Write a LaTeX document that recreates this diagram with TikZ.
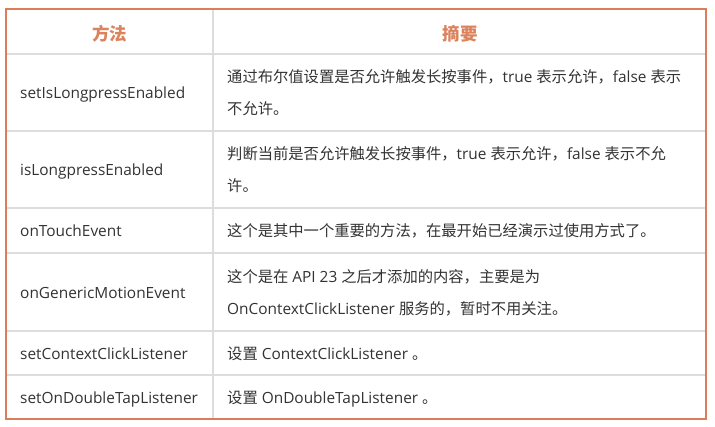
\documentclass[tikz,border=0pt]{standalone}
\usepackage{fontspec}
\setmainfont{Open Sans}
\newfontfamily\cjk{Noto Sans CJK SC}
\newcommand\zh[1]{{\cjk\fontsize{15.3}{32}\selectfont #1}}
\definecolor{brd}{HTML}{D97D5A}
\definecolor{hdr}{HTML}{DC825C}
\definecolor{grid}{HTML}{DDDDDD}
\definecolor{ink}{HTML}{333333}
\begin{document}
\begin{tikzpicture}[x=1pt,y=-1pt,
  txt/.style={anchor=base west, inner sep=0pt, text=ink, font=\fontsize{15.4}{32}\selectfont},
  head/.style={anchor=base, inner sep=0pt, text=hdr, font=\cjk\bfseries\fontsize{17.5}{20}\selectfont},
  gridline/.style={draw=grid, line width=1.2pt},
  frame/.style={draw=brd, line width=2pt}]
\useasboundingbox (0,0) rectangle (715,427);
\fill[white] (0,0) rectangle (715,427);
% grid
\foreach \yy in {54,131,208,253,331,375} \draw[gridline] (6,\yy) -- (706,\yy);
\draw[gridline] (213,9) -- (213,419);
\draw[frame] (6,9) rectangle (706,419);
% header
\node[head] (h1) at (109.5,40.5) {方法};
\node[head] (h2) at (460,40.5) {摘要};
% column 1
\node[txt] (m1) at (20,99) {setIsLongpressEnabled};
\node[txt] (m2) at (20,176) {isLongpressEnabled};
\node[txt] (m3) at (20,237) {onTouchEvent};
\node[txt] (m4) at (20,298.5) {onGenericMotionEvent};
\node[txt] (m5) at (20,359.5) {setContextClickListener};
\node[txt] (m6) at (20,403.5) {setOnDoubleTapListener};
% column 2
\node[txt] (d1a) at (227,83) {\zh{通过布尔值设置是否允许触发长按事件，}true \zh{表示允许，}false \zh{表示}};
\node[txt] (d1b) at (227,115) {\zh{不允许。}};
\node[txt] (d2a) at (227,160) {\zh{判断当前是否允许触发长按事件，}true \zh{表示允许，}false \zh{表示不允}};
\node[txt] (d2b) at (227,192) {\zh{许。}};
\node[txt] (d3) at (227,237) {\zh{这个是其中一个重要的方法，在最开始已经演示过使用方式了。}};
\node[txt] (d4a) at (227,282.5) {\zh{这个是在} API 23 \zh{之后才添加的内容，主要是为}};
\node[txt] (d4b) at (227,314.5) {OnContextClickListener \zh{服务的，暂时不用关注。}};
\node[txt] (d5) at (227,359.5) {\zh{设置} ContextClickListener \zh{。}};
\node[txt] (d6) at (227,403.5) {\zh{设置} OnDoubleTapListener \zh{。}};
\end{tikzpicture}
\end{document}
